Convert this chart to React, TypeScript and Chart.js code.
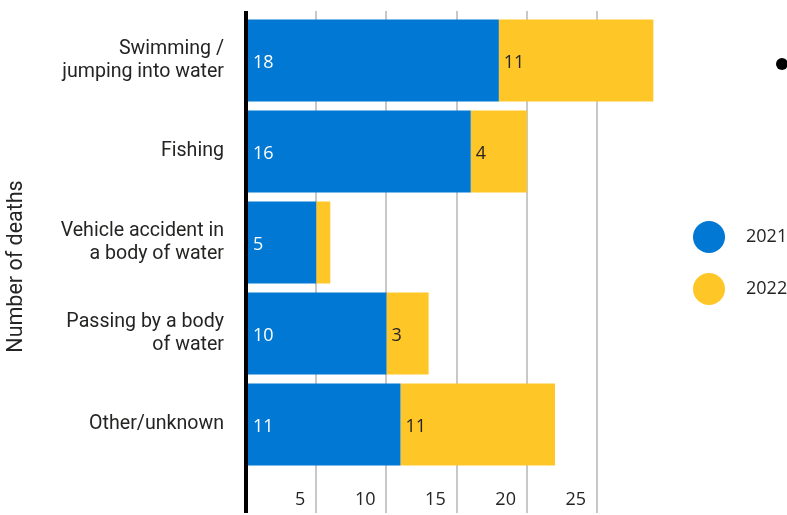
import React, { useEffect, useRef } from 'react';
import { Chart, registerables } from 'chart.js';

Chart.register(...registerables);

const categories: (string | string[])[] = [
  ['Swimming /', 'jumping into water'],
  'Fishing',
  ['Vehicle accident in', 'a body of water'],
  ['Passing by a body', 'of water'],
  'Other/unknown',
];
const seriesNames = ['2021', '2022'];
const deaths2021 = [18, 16, 5, 10, 11];
const deaths2022 = [11, 4, 1, 3, 11];
const xTickValues = [0, 5, 10, 15, 20, 25];
const xAxisMax = 30.4;
const axisTitle = 'Number of deaths';

const BLUE = '#0078D4';
const YELLOW = '#FFC627';
const TEXT = '#252423';
const GRID = '#c8c8c8';

function makeDot(color: string, d: number): HTMLCanvasElement {
  const c = document.createElement('canvas');
  c.width = d;
  c.height = d;
  const ctx = c.getContext('2d')!;
  ctx.fillStyle = color;
  ctx.beginPath();
  ctx.arc(d / 2, d / 2, d / 2, 0, Math.PI * 2);
  ctx.fill();
  return c;
}

const barValueLabels = {
  id: 'barValueLabels',
  afterDatasetsDraw(chart: any) {
    const ctx = chart.ctx;
    ctx.save();
    ctx.font = '18px "Open Sans"';
    ctx.textAlign = 'left';
    ctx.textBaseline = 'middle';
    chart.data.datasets.forEach((ds: any, di: number) => {
      const meta = chart.getDatasetMeta(di);
      meta.data.forEach((bar: any, i: number) => {
        const v = ds.data[i];
        const { x, y, base } = bar.getProps(['x', 'y', 'base'], true);
        if (Math.abs(x - base) < 20) return;
        ctx.fillStyle = di === 0 ? '#ffffff' : TEXT;
        ctx.fillText(String(v), base + 5, y + 2);
      });
    });
    ctx.restore();
  },
};

const gridColor = (c: any) => (c.tick && c.tick.value === 0 ? '#000000' : GRID);
const gridWidth = (c: any) => (c.tick && c.tick.value === 0 ? 4 : 2);
const setTicks = (axis: any) => {
  axis.ticks = xTickValues.map((v) => ({ value: v }));
};

export default function App() {
  const ref = useRef<HTMLCanvasElement | null>(null);

  useEffect(() => {
    if (!ref.current) return;
    const dots = [makeDot(BLUE, 32), makeDot(YELLOW, 32)];
    const chart = new Chart(ref.current, {
      type: 'bar',
      data: {
        labels: categories,
        datasets: [
          {
            label: seriesNames[0],
            data: deaths2021,
            backgroundColor: BLUE,
            borderWidth: 0,
            barPercentage: 0.9,
            categoryPercentage: 1,
          },
          {
            label: seriesNames[1],
            data: deaths2022,
            backgroundColor: YELLOW,
            borderWidth: 0,
            barPercentage: 0.9,
            categoryPercentage: 1,
          },
        ],
      },
      options: {
        indexAxis: 'y',
        animation: false,
        responsive: false,
        layout: { padding: { left: 0, right: 0, top: 11, bottom: 42 } },
        scales: {
          x: {
            type: 'linear',
            stacked: true,
            min: 0,
            max: xAxisMax,
            position: 'bottom',
            afterBuildTicks: setTicks,
            afterFit: (axis: any) => {
              axis.height = 40;
            },
            grid: {
              color: gridColor,
              lineWidth: gridWidth,
              tickLength: 43,
              drawOnChartArea: true,
            },
            border: { display: false },
            ticks: {
              align: 'end',
              labelOffset: -11,
              padding: -24,
              maxRotation: 0,
              autoSkip: false,
              color: TEXT,
              font: { family: 'Open Sans', size: 18 },
              callback: (v: any) => (v === 0 ? '' : String(v)),
            },
          },
          x2: {
            type: 'linear',
            position: 'top',
            min: 0,
            max: xAxisMax,
            afterBuildTicks: setTicks,
            grid: {
              drawOnChartArea: false,
              tickLength: 4,
              color: gridColor,
              lineWidth: gridWidth,
            },
            border: { display: false },
            ticks: { display: false },
          },
          y: {
            stacked: true,
            afterFit: (axis: any) => {
              axis.width = 246;
            },
            grid: {
              display: true,
              drawOnChartArea: false,
              tickLength: 22,
              color: 'rgba(0,0,0,0)',
            },
            border: { display: true, color: '#000000', width: 4, z: 1 },
            ticks: {
              padding: 0,
              color: TEXT,
              font: { family: 'Roboto', size: 19.6, lineHeight: 1.18 },
            },
            title: {
              display: true,
              text: axisTitle + '\u00A0'.repeat(9),
              color: TEXT,
              font: { family: 'Roboto', size: 21.5 },
              padding: { top: 4, bottom: 0 },
            },
          },
        } as any,
        plugins: {
          tooltip: { enabled: false },
          legend: {
            position: 'right',
            align: 'center',
            maxWidth: 124,
            title: {
              display: true,
              text: '',
              padding: { top: 21, bottom: 0 },
              font: { size: 10, lineHeight: 1 },
            },
            labels: {
              usePointStyle: true,
              pointStyleWidth: 56,
              padding: 8,
              color: TEXT,
              font: { family: 'Open Sans', size: 18, lineHeight: '44px' },
              generateLabels: (ch: any) =>
                (Chart.defaults.plugins.legend.labels.generateLabels as any)(ch).map(
                  (item: any, i: number) => ({ ...item, text: [item.text], pointStyle: dots[i] })
                ),
            },
          } as any,
        },
      },
      plugins: [barValueLabels],
    });
    return () => chart.destroy();
  }, []);

  return (
    <div
      style={{
        position: 'fixed',
        left: 0,
        top: 0,
        width: 787,
        height: 515,
        overflow: 'hidden',
        background: '#ffffff',
      }}
    >
      <canvas
        ref={ref}
        width={797}
        height={552}
        style={{ display: 'block', width: 797, height: 552 }}
      />
      <div
        style={{
          position: 'absolute',
          left: 776,
          top: 58,
          width: 12,
          height: 12,
          borderRadius: '50%',
          background: '#000000',
        }}
      />
    </div>
  );
}
